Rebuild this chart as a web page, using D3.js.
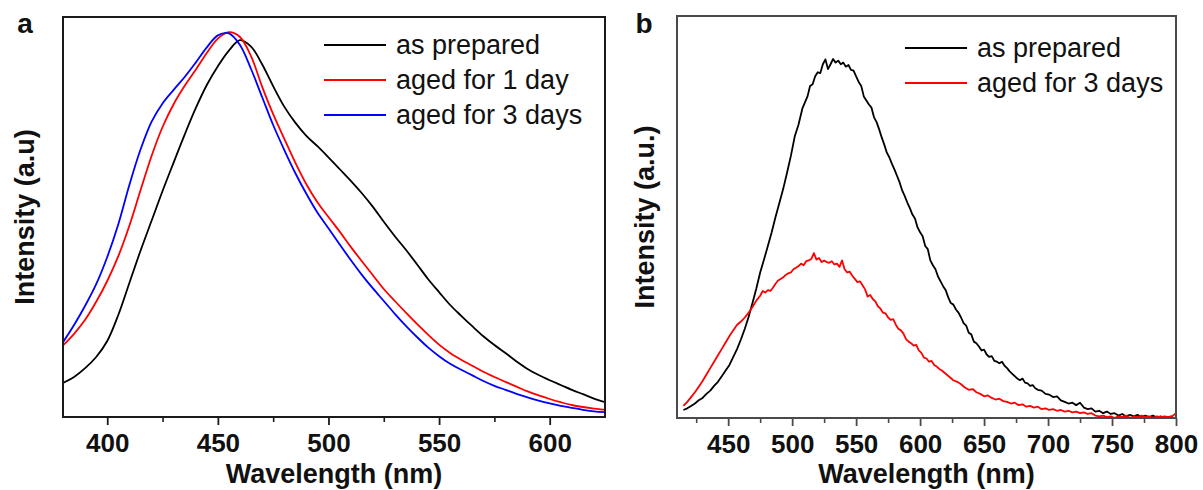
<!DOCTYPE html>
<html>
<head>
<meta charset="utf-8">
<script src="https://cdn.jsdelivr.net/npm/d3@7/dist/d3.min.js"></script>
<style>
  body { margin: 0; background: #fff; }
  svg text { font-family: "Liberation Sans", Arial, sans-serif; fill: #111; }
</style>
</head>
<body>
<div id="chart"></div>
<script>
// ---- panel a: PL spectra, common wavelength grid (nm)
const wavelengthsA = [380, 385, 390, 395, 400, 405, 410, 415, 420, 425, 430, 435, 440, 445, 450, 455, 460, 465, 470, 475,
  480, 485, 490, 495, 500, 505, 510, 515, 520, 525, 530, 535, 540, 545, 550, 555, 560, 565, 570, 575,
  580, 585, 590, 595, 600, 605, 610, 615, 620, 625];
const aAsPrepared = [0.085, 0.100, 0.122, 0.150, 0.190, 0.255, 0.335, 0.415, 0.490, 0.565, 0.636, 0.706, 0.772, 0.830, 0.877, 0.916, 0.942, 0.926, 0.882, 0.827,
  0.776, 0.736, 0.703, 0.677, 0.649, 0.620, 0.591, 0.560, 0.526, 0.488, 0.452, 0.418, 0.382, 0.345, 0.312, 0.280, 0.253, 0.227, 0.202, 0.180,
  0.160, 0.139, 0.120, 0.105, 0.092, 0.080, 0.068, 0.057, 0.046, 0.037];
const aAged1Day = [0.179, 0.208, 0.243, 0.288, 0.340, 0.402, 0.478, 0.566, 0.652, 0.725, 0.782, 0.828, 0.868, 0.910, 0.946, 0.962, 0.950, 0.902, 0.826, 0.757,
  0.696, 0.636, 0.582, 0.537, 0.500, 0.464, 0.426, 0.390, 0.355, 0.320, 0.290, 0.261, 0.233, 0.206, 0.181, 0.160, 0.143, 0.128, 0.113, 0.100,
  0.088, 0.076, 0.064, 0.054, 0.045, 0.037, 0.030, 0.025, 0.021, 0.018];
const aAged3Days = [0.187, 0.230, 0.278, 0.332, 0.400, 0.482, 0.580, 0.668, 0.738, 0.784, 0.818, 0.850, 0.886, 0.924, 0.954, 0.959, 0.930, 0.870, 0.800, 0.730,
  0.668, 0.610, 0.558, 0.511, 0.472, 0.432, 0.393, 0.356, 0.322, 0.290, 0.258, 0.228, 0.200, 0.174, 0.152, 0.133, 0.118, 0.104, 0.090, 0.078,
  0.068, 0.058, 0.049, 0.041, 0.034, 0.028, 0.023, 0.018, 0.014, 0.012];

// ---- panel b: noisy spectra, [nm, intensity]
const bAsPrepared = [[415, 0.020], [418, 0.024], [421, 0.030], [424, 0.036], [427, 0.044], [430, 0.050], [433, 0.060], [436, 0.068], [439, 0.080], [442, 0.090],
  [445, 0.104], [448, 0.118], [451, 0.132], [454, 0.152], [457, 0.172], [460, 0.196], [463, 0.222], [466, 0.252], [469, 0.286], [472, 0.322],
  [475, 0.362], [478, 0.394], [481, 0.428], [484, 0.462], [487, 0.500], [490, 0.535], [493, 0.570], [496, 0.610], [499, 0.652], [502, 0.700],
  [505, 0.730], [508, 0.770], [510, 0.785], [512, 0.800], [514, 0.826], [516, 0.830], [518, 0.850], [520, 0.860], [522, 0.858], [524, 0.880],
  [526, 0.892], [528, 0.868], [530, 0.880], [532, 0.893], [534, 0.884], [536, 0.889], [538, 0.880], [540, 0.884], [542, 0.874], [544, 0.878],
  [546, 0.866], [548, 0.864], [550, 0.850], [552, 0.836], [554, 0.826], [556, 0.800], [558, 0.790], [560, 0.780], [562, 0.772], [564, 0.748],
  [566, 0.736], [568, 0.718], [570, 0.698], [572, 0.680], [574, 0.660], [576, 0.648], [578, 0.632], [580, 0.618], [582, 0.602], [584, 0.586],
  [586, 0.566], [588, 0.552], [590, 0.536], [592, 0.522], [594, 0.506], [596, 0.496], [598, 0.474], [600, 0.462], [602, 0.452], [604, 0.428],
  [606, 0.420], [608, 0.392], [610, 0.380], [612, 0.370], [614, 0.352], [616, 0.340], [618, 0.328], [620, 0.318], [622, 0.300], [624, 0.286],
  [626, 0.282], [628, 0.270], [630, 0.262], [632, 0.250], [634, 0.236], [636, 0.230], [638, 0.212], [640, 0.208], [642, 0.190], [644, 0.186],
  [646, 0.178], [648, 0.168], [650, 0.170], [652, 0.158], [654, 0.152], [656, 0.154], [658, 0.142], [660, 0.140], [662, 0.136], [664, 0.140],
  [666, 0.130], [668, 0.124], [670, 0.116], [672, 0.110], [674, 0.104], [676, 0.098], [678, 0.094], [680, 0.098], [682, 0.088], [684, 0.086],
  [686, 0.080], [688, 0.082], [690, 0.074], [692, 0.070], [695, 0.068], [698, 0.060], [701, 0.058], [704, 0.052], [707, 0.054], [710, 0.044],
  [713, 0.040], [716, 0.036], [719, 0.038], [722, 0.032], [725, 0.038], [728, 0.026], [731, 0.022], [734, 0.024], [737, 0.016], [740, 0.018],
  [743, 0.012], [746, 0.016], [749, 0.010], [752, 0.012], [755, 0.006], [758, 0.010], [761, 0.004], [764, 0.008], [767, 0.004], [770, 0.008],
  [773, 0.002], [776, 0.006], [779, 0.002], [782, 0.006], [785, 0.001], [788, 0.004], [791, 0.000], [794, 0.003], [797, 0.004]];
const bAged3Days = [[415, 0.030], [418, 0.040], [421, 0.052], [424, 0.064], [427, 0.078], [430, 0.092], [433, 0.108], [436, 0.124], [439, 0.140], [442, 0.156],
  [445, 0.172], [448, 0.188], [451, 0.204], [454, 0.218], [457, 0.232], [460, 0.240], [463, 0.250], [466, 0.262], [469, 0.276], [472, 0.292],
  [475, 0.304], [477, 0.316], [479, 0.312], [481, 0.318], [483, 0.316], [485, 0.324], [487, 0.334], [489, 0.342], [491, 0.346], [493, 0.350],
  [495, 0.356], [497, 0.360], [499, 0.362], [501, 0.370], [503, 0.374], [505, 0.378], [507, 0.384], [509, 0.380], [511, 0.390], [513, 0.392],
  [515, 0.396], [517, 0.410], [519, 0.394], [521, 0.398], [523, 0.388], [525, 0.392], [527, 0.388], [529, 0.386], [531, 0.390], [533, 0.382],
  [535, 0.384], [537, 0.376], [539, 0.392], [541, 0.370], [543, 0.362], [545, 0.364], [547, 0.354], [549, 0.346], [551, 0.338], [553, 0.340],
  [555, 0.330], [557, 0.320], [559, 0.302], [561, 0.306], [563, 0.296], [565, 0.290], [567, 0.278], [569, 0.272], [571, 0.262], [573, 0.260],
  [575, 0.250], [577, 0.244], [579, 0.246], [581, 0.232], [583, 0.222], [585, 0.218], [587, 0.210], [589, 0.196], [591, 0.190], [593, 0.186],
  [595, 0.180], [597, 0.182], [599, 0.168], [601, 0.162], [603, 0.150], [605, 0.148], [607, 0.140], [609, 0.142], [611, 0.132], [613, 0.128],
  [615, 0.122], [617, 0.118], [620, 0.110], [623, 0.102], [626, 0.094], [629, 0.090], [632, 0.084], [635, 0.076], [638, 0.070], [641, 0.072],
  [644, 0.064], [647, 0.060], [650, 0.054], [653, 0.056], [656, 0.050], [659, 0.046], [662, 0.048], [665, 0.042], [668, 0.040], [671, 0.036],
  [674, 0.038], [677, 0.032], [680, 0.034], [683, 0.028], [686, 0.030], [689, 0.026], [692, 0.028], [695, 0.022], [698, 0.024], [701, 0.020],
  [704, 0.022], [707, 0.018], [710, 0.020], [713, 0.016], [716, 0.018], [719, 0.014], [722, 0.016], [725, 0.012], [728, 0.014], [731, 0.010],
  [734, 0.012], [737, 0.006], [740, 0.004], [743, 0.006], [746, 0.002], [749, 0.004], [752, 0.000], [755, 0.004], [758, 0.002], [761, 0.006],
  [764, 0.000], [767, 0.004], [770, 0.002], [773, 0.006], [776, 0.002], [779, 0.004], [782, 0.000], [785, 0.004], [788, 0.002], [791, 0.004],
  [794, 0.002], [797, 0.004], [800, 0.012]];

const ticksA = [400, 450, 500, 550, 600];
const minorTicksA = [425, 475, 525, 575];
const ticksB = [450, 500, 550, 600, 650, 700, 750, 800];
const minorTicksB = [425, 475, 525, 575, 625, 675, 725, 775];

const legendA = ["as prepared", "aged for 1 day", "aged for 3 days"];
const legendB = ["as prepared", "aged for 3 days"];

const width = 1203, height = 490;

const svg = d3.select("#chart").append("svg")
  .attr("width", width)
  .attr("height", height);

svg.append("rect").attr("width", width).attr("height", height).attr("fill", "#fff");

function panel(cfg) {
  const x = d3.scaleLinear().domain(cfg.xDomain).range([cfg.left, cfg.right]);
  const y = d3.scaleLinear().domain([0, 1]).range([cfg.bottom, cfg.top]);
  const g = svg.append("g");

  g.append("clipPath").attr("id", "clip-" + cfg.id)
    .append("rect")
    .attr("x", cfg.left).attr("y", cfg.top)
    .attr("width", cfg.right - cfg.left).attr("height", cfg.bottom - cfg.top);

  // minor ticks first, then the labelled axis
  g.append("g")
    .attr("transform", "translate(0," + cfg.bottom + ")")
    .call(d3.axisBottom(x).tickValues(cfg.minor).tickSize(5).tickFormat(""))
    .call(a => a.select(".domain").remove())
    .call(a => a.selectAll("line").attr("stroke", cfg.frame).attr("stroke-width", 1.6));

  g.append("g")
    .attr("transform", "translate(0," + cfg.bottom + ")")
    .call(d3.axisBottom(x).tickValues(cfg.ticks).tickSize(8).tickPadding(9))
    .call(a => a.select(".domain").remove())
    .call(a => a.selectAll("line").attr("stroke", cfg.frame).attr("stroke-width", 1.8))
    .call(a => a.selectAll("text")
      .attr("font-size", 26).attr("font-weight", "bold")
      .attr("font-family", "'Liberation Sans', Arial, sans-serif")
      .attr("fill", "#111"));

  const line = d3.line()
    .x(d => x(d[0]))
    .y(d => y(d[1]))
    .curve(cfg.curve);

  cfg.series.forEach(s => {
    g.append("path")
      .datum(s.values)
      .attr("clip-path", "url(#clip-" + cfg.id + ")")
      .attr("fill", "none")
      .attr("stroke", s.color)
      .attr("stroke-width", 1.8)
      .attr("stroke-linejoin", "round")
      .attr("d", line);
  });

  g.append("rect")
    .attr("x", cfg.left).attr("y", cfg.top)
    .attr("width", cfg.right - cfg.left).attr("height", cfg.bottom - cfg.top)
    .attr("fill", "none")
    .attr("stroke", cfg.frame)
    .attr("stroke-width", 2);

  // legend
  cfg.series.forEach((s, i) => {
    const ly = cfg.legend.y + i * cfg.legend.step;
    g.append("line")
      .attr("x1", cfg.legend.x).attr("x2", cfg.legend.x + 62)
      .attr("y1", ly).attr("y2", ly)
      .attr("stroke", s.color).attr("stroke-width", 1.8);
    g.append("text")
      .attr("x", cfg.legend.x + 72).attr("y", ly)
      .attr("dy", "0.35em")
      .attr("font-size", 27)
      .text(s.name);
  });

  // axis titles and panel letter
  g.append("text")
    .attr("x", (cfg.left + cfg.right) / 2).attr("y", 483)
    .attr("text-anchor", "middle")
    .attr("font-size", 27).attr("font-weight", "bold")
    .text("Wavelength (nm)");

  g.append("text")
    .attr("transform", "translate(" + cfg.yTitleX + "," + ((cfg.top + cfg.bottom) / 2) + ") rotate(-90)")
    .attr("text-anchor", "middle")
    .attr("dy", "0.35em")
    .attr("font-size", 27).attr("font-weight", "bold")
    .text(cfg.yTitle);

  g.append("text")
    .attr("x", cfg.letterX).attr("y", 33)
    .attr("text-anchor", "middle")
    .attr("font-size", 28).attr("font-weight", "bold")
    .text(cfg.id);
}

panel({
  id: "a",
  xDomain: [380, 625],
  left: 63, right: 605, top: 17, bottom: 417,
  ticks: ticksA, minor: minorTicksA,
  frame: "#1a1a1a",
  curve: d3.curveCatmullRom.alpha(0.5),
  series: [
    { name: legendA[0], color: "#000000", values: wavelengthsA.map((w, i) => [w, aAsPrepared[i]]) },
    { name: legendA[1], color: "#ff0000", values: wavelengthsA.map((w, i) => [w, aAged1Day[i]]) },
    { name: legendA[2], color: "#0000ff", values: wavelengthsA.map((w, i) => [w, aAged3Days[i]]) }
  ],
  legend: { x: 324, y: 45, step: 35 },
  yTitle: "Intensity (a.u)",
  yTitleX: 25,
  letterX: 25
});

panel({
  id: "b",
  xDomain: [410, 800],
  left: 677, right: 1176, top: 16, bottom: 418,
  ticks: ticksB, minor: minorTicksB,
  frame: "#4a4a4a",
  curve: d3.curveLinear,
  series: [
    { name: legendB[0], color: "#000000", values: bAsPrepared },
    { name: legendB[1], color: "#ff0000", values: bAged3Days }
  ],
  legend: { x: 905, y: 48, step: 35 },
  yTitle: "Intensity (a.u.)",
  yTitleX: 645,
  letterX: 644
});
</script>
</body>
</html>
